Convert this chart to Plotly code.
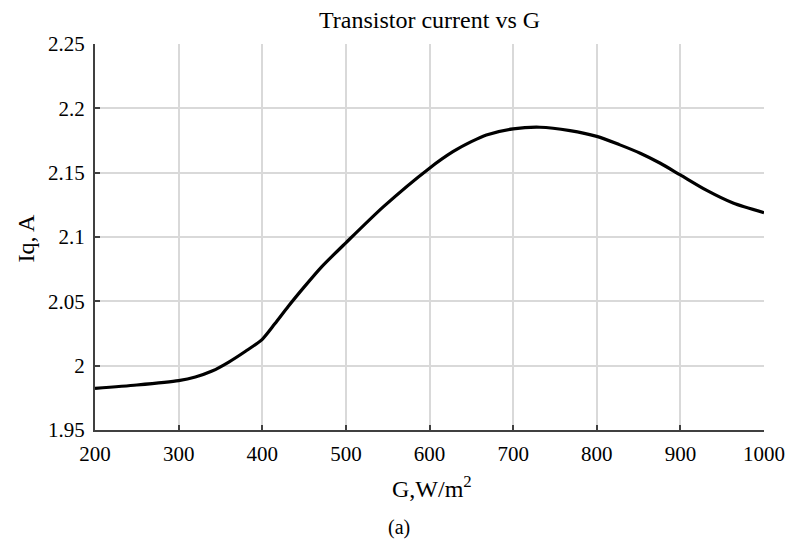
import plotly.graph_objects as go

G = [200, 250, 300, 320, 340, 360, 380, 400, 415, 431, 451, 471, 500, 545, 600,
     628, 650, 668, 700, 732, 768, 800, 827, 852, 876, 900, 931, 963, 1000]
Iq = [1.9824, 1.9850, 1.9884, 1.9912, 1.9958, 2.0028, 2.0112, 2.0205, 2.0325, 2.0460,
      2.0618, 2.0768, 2.0955, 2.1236, 2.1535, 2.1663, 2.1741, 2.1793, 2.1840, 2.1853,
      2.1827, 2.1782, 2.1718, 2.1651, 2.1573, 2.1482, 2.1364, 2.1264, 2.1189]

x_ticks = [200, 300, 400, 500, 600, 700, 800, 900, 1000]
y_ticks = [1.95, 2.0, 2.05, 2.1, 2.15, 2.2, 2.25]
y_tick_text = ["1.95", "2", "2.05", "2.1", "2.15", "2.2", "2.25"]

FONT = "Liberation Serif, Times New Roman, serif"
L, R, T, B = 94.5, 32.5, 44, 110
W, H = 797, 540

fig = go.Figure()
fig.add_trace(go.Scatter(x=G, y=Iq, mode="lines",
                         line=dict(color="black", width=3.2, shape="spline", smoothing=0.7),
                         showlegend=False))

fig.update_layout(
    width=W, height=H,
    margin=dict(l=L, r=R, t=T, b=B),
    paper_bgcolor="white", plot_bgcolor="white",
    font=dict(family=FONT, size=21, color="black"),
)

axis_style = dict(showgrid=True, gridcolor="#d9d9d9", gridwidth=1.5,
                  showline=True, linecolor="#404040", linewidth=2.2,
                  ticks="inside", ticklen=5, tickwidth=2, tickcolor="#404040",
                  zeroline=False, tickfont=dict(size=21, family=FONT, color="black"),
                  ticklabelstandoff=4)

fig.update_xaxes(range=[200, 1000], tickvals=x_ticks, ticktext=[str(v) for v in x_ticks],
                 **axis_style)
fig.update_yaxes(range=[1.95, 2.25], tickvals=y_ticks, ticktext=y_tick_text,
                 **axis_style)

plot_h = H - T - B
plot_w = W - L - R
def px_to_paper_y(py):
    return (H - B - py) / plot_h
def px_to_paper_x(px):
    return (px - L) / plot_w

fig.add_annotation(text="Transistor current vs G", x=px_to_paper_x(430), y=px_to_paper_y(20),
                   xref="paper", yref="paper", showarrow=False,
                   font=dict(size=24, family=FONT, color="black"),
                   xanchor="center", yanchor="middle")
fig.add_annotation(text="G,W/m<sup>2</sup>", x=px_to_paper_x(432), y=px_to_paper_y(487),
                   xref="paper", yref="paper", showarrow=False,
                   font=dict(size=24, family=FONT, color="black"),
                   xanchor="center", yanchor="middle")
fig.add_annotation(text="Iq, A", x=px_to_paper_x(25), y=px_to_paper_y(238),
                   xref="paper", yref="paper", showarrow=False, textangle=-90,
                   font=dict(size=24, family=FONT, color="black"),
                   xanchor="center", yanchor="middle")
fig.add_annotation(text="(a)", x=px_to_paper_x(399), y=px_to_paper_y(527),
                   xref="paper", yref="paper", showarrow=False,
                   font=dict(size=20, family=FONT, color="black"),
                   xanchor="center", yanchor="middle")

fig.write_html("out.html")
